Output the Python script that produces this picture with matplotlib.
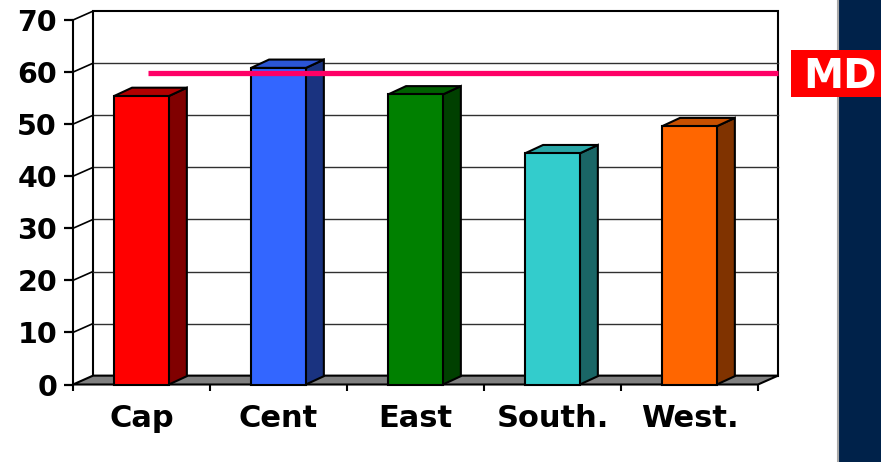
import matplotlib
matplotlib.use('Agg')
import matplotlib.pyplot as plt
from matplotlib.patches import Polygon, Rectangle
from matplotlib.lines import Line2D

categories = ['Cap', 'Cent', 'East', 'South.', 'West.']
values = [55.4, 60.8, 55.7, 44.4, 49.6]
md_value = 59.8
md_label = 'MD'
yticks = [0, 10, 20, 30, 40, 50, 60, 70]

front_colors = ['#FF0000', '#3366FF', '#008000', '#33CCCC', '#FF6600']
side_colors = ['#800000', '#1A3380', '#004000', '#1A6666', '#803300']
top_colors = ['#B00000', '#2B55D5', '#006000', '#29A6A6', '#C85000']

W, H = 881, 462
fig = plt.figure(figsize=(W / 100, H / 100), dpi=100)
fig.patch.set_facecolor('white')
ax = fig.add_axes([73 / W, (H - 384.5) / H, (758 - 73) / W, (384.5 - 20) / H])
n = len(categories)
ax.set_xlim(-0.5, n - 0.5)
ax.set_ylim(0, 70)
ax.patch.set_alpha(0)

wall_dx, wall_dy = 0.146, 1.7
bar_dx, bar_dy = 0.131, 1.6
bar_w = 0.4
edge = 'black'

# back wall
ax.add_patch(Rectangle((-0.5 + wall_dx, wall_dy), n, 70, fc='white', ec=edge,
                       lw=1.5, clip_on=False, zorder=1))
# gridlines + left wall diagonals
for v in yticks[1:]:
    if v < 70:
        ax.plot([-0.5 + wall_dx, n - 0.5 + wall_dx], [v + wall_dy] * 2,
                color='#303030', lw=1.0, clip_on=False, zorder=2)
    ax.plot([-0.5, -0.5 + wall_dx], [v, v + wall_dy], color=edge, lw=1.2,
            clip_on=False, zorder=2)

# floor
ax.add_patch(Polygon([(-0.5, 0), (n - 0.5, 0), (n - 0.5 + wall_dx, wall_dy),
                      (-0.5 + wall_dx, wall_dy)], closed=True, fc='#808080',
                     ec=edge, lw=1.5, clip_on=False, zorder=3))

# bars
for i, v in enumerate(values):
    l, r = i - bar_w / 2, i + bar_w / 2
    ax.add_patch(Polygon([(r, 0), (r + bar_dx, bar_dy), (r + bar_dx, v + bar_dy), (r, v)],
                         closed=True, fc=side_colors[i], ec=edge, lw=1.5,
                         clip_on=False, zorder=4))
    ax.add_patch(Polygon([(l, v), (r, v), (r + bar_dx, v + bar_dy), (l + bar_dx, v + bar_dy)],
                         closed=True, fc=top_colors[i], ec=edge, lw=1.5,
                         clip_on=False, zorder=4))
    ax.add_patch(Rectangle((l, 0), bar_w, v, fc=front_colors[i], ec=edge, lw=1.5,
                           clip_on=False, zorder=5))

# MD line
ax.plot([0.05, n - 0.5 + wall_dx], [md_value, md_value], color='#FF0066', lw=3.8,
        solid_capstyle='butt', clip_on=False, zorder=10)

# axes styling
for s in ['top', 'right', 'bottom']:
    ax.spines[s].set_visible(False)
ax.spines['left'].set_linewidth(1.5)
ax.spines['left'].set_zorder(6)
ax.set_yticks(yticks)
ax.set_yticklabels([str(t) for t in yticks])
ax.tick_params(axis='y', length=6.5, width=1.6, direction='out', pad=5,
               labelsize=20.5)
for t in ax.get_yticklabels():
    t.set_fontweight('bold')
    t.set_family('DejaVu Sans')

ax.set_xticks(range(n))
ax.set_xticklabels(categories)
ax.set_xticks([k - 0.5 for k in range(n + 1)], minor=True)
ax.tick_params(axis='x', which='major', length=0, pad=14, labelsize=22)
ax.tick_params(axis='x', which='minor', length=4.5, width=1.5, direction='out')
ax.xaxis.set_ticks_position('bottom')
for t in ax.get_xticklabels():
    t.set_fontweight('bold')
    t.set_family('DejaVu Sans')

# right navy strip
fig.patches.append(Rectangle((838 / W, 0), 43 / W, 1, transform=fig.transFigure,
                             fc='#00224A', ec='none', zorder=20))
fig.lines.append(Line2D([838 / W, 838 / W], [0, 1], transform=fig.transFigure,
                        color='#A8A8A8', lw=1.5, zorder=21))
# MD label box
fig.patches.append(Rectangle((791 / W, (H - 97) / H), 90 / W, 47 / H,
                             transform=fig.transFigure, fc='#FF0000', ec='none',
                             zorder=22))
fig.text(840 / W, (H - 77) / H, md_label, color='white', fontsize=29,
         fontweight='bold', family='DejaVu Sans', ha='center', va='center',
         zorder=23)

fig.savefig('out.png', dpi=100)
